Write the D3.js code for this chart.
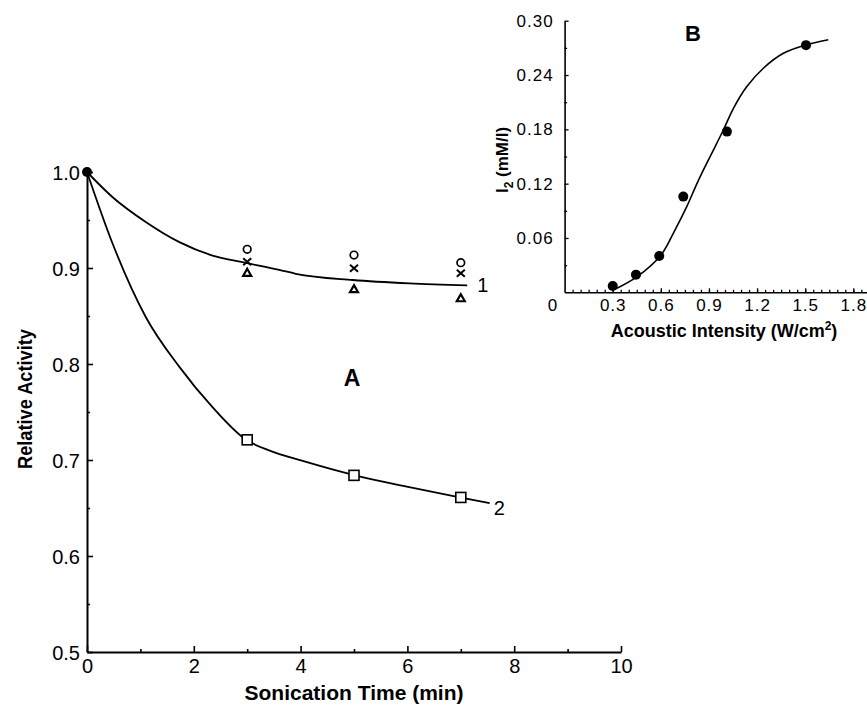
<!DOCTYPE html>
<html><head><meta charset="utf-8">
<script src="https://cdn.jsdelivr.net/npm/d3@7"></script>
<style>
body{margin:0;background:#fff;}
svg{display:block;font-family:Arial,"Liberation Sans",Helvetica,sans-serif;}
</style></head>
<body>
<svg id="chart" width="867" height="710"></svg>
<script>
// ---------- Panel A data ----------
const sampleTimes = [3, 5, 7];
const circleVals = [0.9195, 0.9135, 0.9055];
const crossVals = [0.9066, 0.8997, 0.8945];
const triangleVals = [0.895, 0.878, 0.8685];
const squareVals = [0.721, 0.684, 0.661];
const startTime = [0];
const startVal = [1.0];
const curve1Times = [0, 0.475, 1.10, 1.73, 2.35, 2.91, 3.6, 3.91, 4.98, 6.04, 7.12];
const curve1Vals = [1.0, 0.974, 0.948, 0.927, 0.913, 0.906, 0.898, 0.894, 0.8875, 0.884, 0.882];
const curve2Times = [0, 0.475, 1.10, 1.73, 2.35, 2.98, 3.41, 4.04, 5.02, 5.92, 6.98, 7.54];
const curve2Vals = [1.0, 0.926, 0.849, 0.797, 0.755, 0.721, 0.710, 0.699, 0.684, 0.673, 0.661, 0.655];
const xTicksA = [0, 2, 4, 6, 8, 10];
const xMinorA = [1, 3, 5, 7, 9];
const yTicksA = [0.5, 0.6, 0.7, 0.8, 0.9, 1.0];
const yMinorA = [0.55, 0.65, 0.75, 0.85, 0.95];
const curveLabels = ["1", "2"];

// ---------- Panel B data ----------
const intensity = [0.30, 0.445, 0.59, 0.74, 1.012, 1.505];
const iodine = [0.007, 0.0195, 0.040, 0.1057, 0.1775, 0.273];
const fitIntensity = [0.31, 0.45, 0.6, 0.68, 0.76, 0.83, 0.896, 0.989, 1.052, 1.135, 1.239, 1.364, 1.499, 1.644];
const fitIodine = [0.003, 0.017, 0.041, 0.066, 0.094, 0.122, 0.146, 0.179, 0.203, 0.227, 0.2475, 0.264, 0.273, 0.279];
const xTicksB = [0.3, 0.6, 0.9, 1.2, 1.5, 1.8];
const xTickLabelsB = ["0.3", "0.6", "0.9", "1.2", "1.5", "1.8"];
const yTicksB = [0.06, 0.12, 0.18, 0.24, 0.30];
const yTickLabelsB = ["0.06", "0.12", "0.18", "0.24", "0.30"];

const svg = d3.select("#chart");

// ================= Panel A =================
const xA = d3.scaleLinear().domain([0, 10]).range([87, 621]);
const yA = d3.scaleLinear().domain([0.5, 1.0]).range([652, 172]);

const gA = svg.append("g");

function styleAxis(g, sw, fs, ls) {
  g.select(".domain").attr("stroke", "#000").attr("stroke-width", sw);
  g.selectAll(".tick line").attr("stroke", "#000").attr("stroke-width", sw * 0.8);
  g.selectAll(".tick text").attr("fill", "#000").attr("font-size", fs).attr("font-family", "Arial, 'Liberation Sans', sans-serif").style("letter-spacing", ls);
}

const xAxisA = gA.append("g").attr("transform", `translate(0,${yA(0.5)})`)
  .call(d3.axisBottom(xA).tickValues(xTicksA).tickSize(-6).tickSizeOuter(0).tickPadding(7).tickFormat(d3.format("d")));
styleAxis(xAxisA, 2, "20px", "0px");
const xMinA = gA.append("g").attr("transform", `translate(0,${yA(0.5)})`)
  .call(d3.axisBottom(xA).tickValues(xMinorA).tickSize(-3).tickSizeOuter(0).tickFormat(""));
styleAxis(xMinA, 2, "20px", "0px");
xMinA.select(".domain").remove();

const yAxisA = gA.append("g").attr("transform", `translate(${xA(0)},0)`)
  .call(d3.axisLeft(yA).tickValues(yTicksA).tickSize(-6).tickSizeOuter(0).tickPadding(7).tickFormat(d3.format(".1f")));
styleAxis(yAxisA, 2, "20px", "0px");
const yMinA = gA.append("g").attr("transform", `translate(${xA(0)},0)`)
  .call(d3.axisLeft(yA).tickValues(yMinorA).tickSize(-3).tickSizeOuter(0).tickFormat(""));
styleAxis(yMinA, 2, "20px", "0px");
yMinA.select(".domain").remove();
yAxisA.selectAll(".tick text").attr("dy", "0.35em");

const lineA = d3.line().x(d => xA(d[0])).y(d => yA(d[1])).curve(d3.curveMonotoneX);
const c1 = curve1Times.map((t, i) => [t, curve1Vals[i]]);
const c2 = curve2Times.map((t, i) => [t, curve2Vals[i]]);
gA.append("path").attr("d", lineA(c1)).attr("fill", "none").attr("stroke", "#000").attr("stroke-width", 1.8);
gA.append("path").attr("d", lineA(c2)).attr("fill", "none").attr("stroke", "#000").attr("stroke-width", 1.8);

// start point
gA.selectAll(".startpt").data(startTime).join("circle")
  .attr("cx", d => xA(d)).attr("cy", (d, i) => yA(startVal[i])).attr("r", 5).attr("fill", "#000");

// circles
gA.selectAll(".opencirc").data(sampleTimes).join("circle")
  .attr("cx", d => xA(d)).attr("cy", (d, i) => yA(circleVals[i])).attr("r", 3.8)
  .attr("fill", "#fff").attr("stroke", "#000").attr("stroke-width", 1.7);
// crosses
const crossG = gA.selectAll(".cross").data(sampleTimes).join("g")
  .attr("transform", (d, i) => `translate(${xA(d)},${yA(crossVals[i])})`);
crossG.append("path").attr("d", "M-4,-3.5L4,3.5M-4,3.5L4,-3.5").attr("stroke", "#000").attr("stroke-width", 2).attr("fill", "none");
// triangles
gA.selectAll(".tri").data(sampleTimes).join("path")
  .attr("transform", (d, i) => `translate(${xA(d)},${yA(triangleVals[i])})`)
  .attr("d", "M0,-4L4,3L-4,3Z").attr("fill", "#fff").attr("stroke", "#000").attr("stroke-width", 2.2).attr("stroke-linejoin", "miter");
// squares
gA.selectAll(".sq").data(sampleTimes).join("rect")
  .attr("x", d => xA(d) - 5).attr("y", (d, i) => yA(squareVals[i]) - 5).attr("width", 10).attr("height", 10)
  .attr("fill", "#fff").attr("stroke", "#000").attr("stroke-width", 1.6);

// curve labels
gA.append("text").attr("x", xA(curve1Times[curve1Times.length - 1]) + 10).attr("y", yA(curve1Vals[curve1Vals.length - 1]) + 7)
  .attr("font-size", "20px").text(curveLabels[0]);
gA.append("text").attr("x", xA(curve2Times[curve2Times.length - 1]) + 4).attr("y", yA(curve2Vals[curve2Vals.length - 1]) + 12)
  .attr("font-size", "20px").text(curveLabels[1]);

// panel letter
gA.append("text").attr("x", 352).attr("y", 386).attr("text-anchor", "middle").attr("font-size", "23px").attr("font-weight", "bold").text("A");

// axis titles
gA.append("text").attr("x", 354).attr("y", 700).attr("text-anchor", "middle").attr("font-size", "21px").attr("font-weight", "bold").text("Sonication Time (min)");
gA.append("text").attr("transform", "translate(32,399) rotate(-90)").attr("text-anchor", "middle")
  .attr("font-size", "20px").attr("font-weight", "bold").attr("textLength", 140).attr("lengthAdjust", "spacingAndGlyphs").text("Relative Activity");

// ================= Panel B =================
const xB = d3.scaleLinear().domain([0, 1.9]).range([564.6, 564.6 + 1.9 * 160.4]);
const yB = d3.scaleLinear().domain([0, 0.30]).range([292.3, 20.7]);
const gB = svg.append("g");

const xAxisB = gB.append("g").attr("transform", `translate(0,${yB(0)})`)
  .call(d3.axisBottom(xB).tickValues(xTicksB).tickSize(-4).tickSizeOuter(0).tickPadding(7).tickFormat((d, i) => xTickLabelsB[i]));
styleAxis(xAxisB, 1.6, "17px", "1px");
const xMinB = gB.append("g").attr("transform", `translate(0,${yB(0)})`)
  .call(d3.axisBottom(xB).tickValues(d3.range(1, 38).map(k => k * 0.05)).tickSize(-2.5).tickSizeOuter(0).tickFormat(""));
styleAxis(xMinB, 1.6, "17px", "0px");
xMinB.select(".domain").remove();

const yAxisB = gB.append("g").attr("transform", `translate(${xB(0)},0)`)
  .call(d3.axisLeft(yB).tickValues(yTicksB).tickSize(-4).tickSizeOuter(0).tickPadding(11).tickFormat((d, i) => yTickLabelsB[i]));
styleAxis(yAxisB, 1.6, "17px", "1px");
const yMinB = gB.append("g").attr("transform", `translate(${xB(0)},0)`)
  .call(d3.axisLeft(yB).tickValues([0.03, 0.09, 0.15, 0.21, 0.27]).tickSize(-2.5).tickSizeOuter(0).tickFormat(""));
styleAxis(yMinB, 1.6, "17px", "0px");
yMinB.select(".domain").remove();

gB.append("text").attr("x", xB(0) - 12).attr("y", yB(0) + 19).attr("text-anchor", "middle").attr("font-size", "17px").text("0");

const lineB = d3.line().x(d => xB(d[0])).y(d => yB(d[1])).curve(d3.curveCatmullRom.alpha(0.5));
const fitB = fitIntensity.map((x, i) => [x, fitIodine[i]]);
gB.append("path").attr("d", lineB(fitB)).attr("fill", "none").attr("stroke", "#000").attr("stroke-width", 1.6);
gB.selectAll(".dotB").data(intensity).join("circle")
  .attr("cx", d => xB(d)).attr("cy", (d, i) => yB(iodine[i])).attr("r", 5).attr("fill", "#000");

gB.append("text").attr("x", 693).attr("y", 41).attr("text-anchor", "middle").attr("font-size", "22px").attr("font-weight", "bold").text("B");

const xt = gB.append("text").attr("x", 724).attr("y", 337).attr("text-anchor", "middle").attr("font-size", "18px").attr("font-weight", "bold");
xt.append("tspan").text("Acoustic Intensity (W/cm");
xt.append("tspan").attr("dy", -7).attr("font-size", "12px").text("2");
xt.append("tspan").attr("dy", 7).text(")");

const yt = gB.append("text").attr("transform", "translate(508,160) rotate(-90)").attr("text-anchor", "middle").attr("font-size", "17px").attr("font-weight", "bold");
yt.append("tspan").text("I");
yt.append("tspan").attr("dy", 5).attr("font-size", "12px").text("2");
yt.append("tspan").attr("dy", -5).text(" (mM/l)");
</script>
</body></html>
